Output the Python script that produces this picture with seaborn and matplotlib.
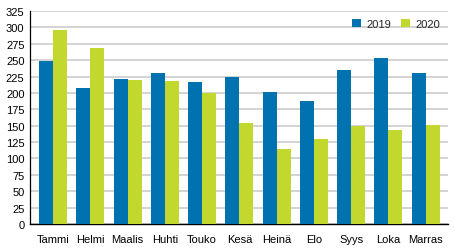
import matplotlib
matplotlib.use("Agg")
import matplotlib.pyplot as plt
import seaborn as sns
import pandas as pd

months = ["Tammi", "Helmi", "Maalis", "Huhti", "Touko", "Kesä", "Heinä", "Elo", "Syys", "Loka", "Marras"]
v2019 = [249, 208, 222, 231, 216, 225, 202, 188, 235, 254, 230]
v2020 = [296, 268, 219, 218, 200, 154, 115, 130, 150, 144, 151]
series = ["2019", "2020"]
yticks = list(range(0, 326, 25))

sns.set_theme(style="white")
plt.rcParams["font.family"] = ["Liberation Sans", "DejaVu Sans"]

df = pd.DataFrame({
    "month": months * 2,
    "value": v2019 + v2020,
    "year": [series[0]] * len(months) + [series[1]] * len(months),
})

fig = plt.figure(figsize=(4.54, 2.53), dpi=100)
ax = fig.add_axes([30 / 454, 28 / 253, 418 / 454, 213 / 253])
sns.barplot(data=df, x="month", y="value", hue="year", order=months, hue_order=series,
            palette=["#0072B0", "#C2D82F"], saturation=1, width=0.75, gap=0, ax=ax,
            edgecolor="none", linewidth=0, errorbar=None, zorder=3)

ax.set_ylim(0, 325)
ax.set_yticks(yticks)
ax.set_xlim(-0.62, 10.6)
ax.yaxis.grid(True, color="#C8C8C8", linewidth=1.1, zorder=0)
ax.set_axisbelow(True)
ax.set_xlabel("")
ax.set_ylabel("")
for s in ["top", "right"]:
    ax.spines[s].set_visible(False)
ax.spines["left"].set_color("black")
ax.spines["left"].set_linewidth(0.9)
ax.spines["bottom"].set_color("black")
ax.spines["bottom"].set_linewidth(1.0)
ax.tick_params(axis="both", labelsize=8, length=0, pad=4, colors="black")
ax.tick_params(axis="x", pad=7)

leg = ax.legend(loc="upper right", frameon=False, fontsize=8, handlelength=0.8,
                handleheight=0.8, handletextpad=0.5, columnspacing=0.9, ncol=2,
                bbox_to_anchor=(1.0, 1.0), borderaxespad=0.3)

fig.savefig("out.png", dpi=100)
